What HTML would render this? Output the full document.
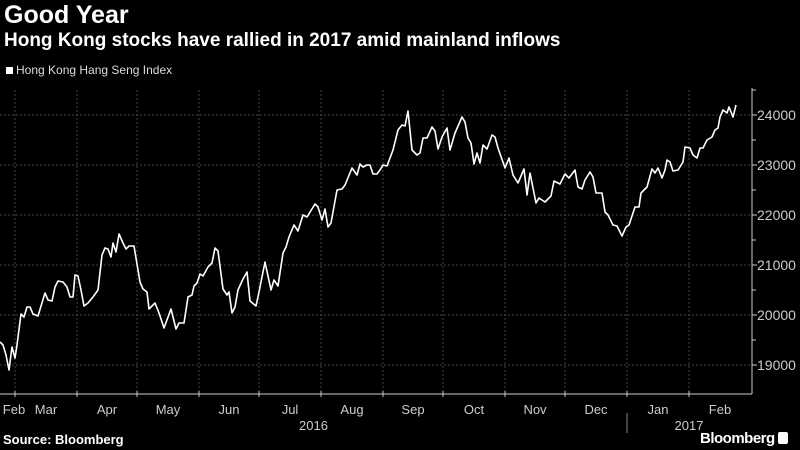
<!DOCTYPE html>
<html><head><meta charset="utf-8"><style>
body{margin:0;background:#000;width:800px;height:450px;overflow:hidden;font-family:"Liberation Sans",sans-serif;color:#fff}
.t{position:absolute;white-space:nowrap}
</style></head><body>
<div class="t" style="left:4px;top:1px;font-size:25px;font-weight:bold">Good Year</div>
<div class="t" style="left:4px;top:30px;font-size:19px;font-weight:bold">Hong Kong stocks have rallied in 2017 amid mainland inflows</div>
<div class="t" style="left:6px;top:63px;font-size:12px;color:#ddd"><span style="display:inline-block;width:7px;height:7px;background:#fff;margin-right:3px"></span>Hong Kong Hang Seng Index</div>
<svg id="c" width="800" height="450" style="position:absolute;left:0;top:0"></svg>
<div class="t" style="left:3px;top:432px;font-size:13px;font-weight:bold">Source: Bloomberg</div>
<div class="t" style="left:700px;top:430px;font-size:15px;font-weight:bold;letter-spacing:-0.5px">Bloomberg <span style="display:inline-block;width:10px;height:12px;background:#fff;border-radius:2px;vertical-align:-1px"></span></div>
<script>
const days=[21.5,23,24.5,26,27.5,29,30,32,33.5,35,36.5,38,40.5,44,45.5,47.5,49,50.5,53,55,56.5,58,59,60.5,62,63.5,65.5,68,70.5,72.5,74,75.5,77,78,79.5,81,83,84.5,86,88.5,91.5,93,95,96,99,101,103.5,107,109.5,111,113.5,115.5,117.5,118.5,120,121.5,123,125.5,127.5,129,130.5,133,135,136,137.5,139,140.5,143,145,146.5,149.5,151,154,157,158.5,160.5,163,164.5,166,168.5,170.5,173,175,179,180.5,182.5,184,185.5,187,190,192.5,194,197.5,200,201.5,203,205,206.5,208,210,211.5,213,215,218,220.5,222.5,224,225.5,227.5,230,231.5,233,235,237.5,239,240.5,242.5,245,246.5,249,252.5,254,255.5,257,258.5,260,261.5,263,265,267.5,269,270.5,274,276,278,280.5,283.5,285,286.5,289.5,291,294,297,298.5,301.5,304,306,309,310.5,312.5,314,316.5,318,319.5,322.5,324,325.5,328,330,332.5,334.5,336,339,341,342,345,347.5,349,350.5,352.5,354,355,356.5,358,360.5,363,364,366.5,368,370,371.5,373,375,377.5,379,380.5,381.5,383,385,386,388,389.5];
const values=[19460,19400,19200,18900,19360,19140,19400,20020,19960,20160,20160,20020,19980,20440,20300,20280,20560,20680,20660,20560,20360,20360,20800,20780,20500,20180,20240,20360,20500,21200,21340,21320,21160,21440,21260,21620,21440,21320,21380,21380,20660,20520,20460,20120,20240,20040,19740,20120,19720,19840,19840,20360,20400,20580,20640,20820,20780,20960,21040,21340,21280,20520,20400,20460,20040,20160,20500,20720,20860,20280,20180,20460,21060,20500,20700,20580,21240,21360,21560,21800,21680,22000,21960,22220,22160,21900,22120,21760,21840,22500,22520,22600,22940,22800,23020,22960,23000,23000,22820,22820,22900,23000,22980,23300,23700,23800,23780,24080,23300,23200,23240,23540,23540,23760,23680,23320,23560,23740,23300,23640,23960,23860,23540,23440,23020,23240,23040,23400,23320,23600,23560,23340,22940,23140,22800,22640,22920,22400,22840,22240,22340,22260,22380,22680,22620,22820,22740,22900,22560,22520,22700,22860,22760,22440,22440,22060,22000,21800,21780,21580,21760,21800,22160,22160,22440,22560,22920,22840,22940,22740,22900,23100,23060,22880,22900,23060,23360,23340,23200,23140,23340,23340,23500,23560,23700,23740,23960,24100,24040,24160,23960,24200];
const yTicks=[19000,20000,21000,22000,23000,24000];
const monthStarts=[29,60,90,121,151,182,213,243,274,304,335,366];
const monthLabels=["Feb","Mar","Apr","May","Jun","Jul","Aug","Sep","Oct","Nov","Dec","Jan","Feb"];
const years=[{label:"2016",from:21.5,to:335},{label:"2017",from:335,to:397}];
const L=0,R=752,B=394;
const xs=d=>2*d-43;
const ys=v=>115+(24000-v)/20;
const svg=document.getElementById('c');
const NS='http://www.w3.org/2000/svg';
function mk(t,a){const e=document.createElementNS(NS,t);for(const k in a)e.setAttribute(k,a[k]);svg.appendChild(e);return e;}
yTicks.forEach(v=>{
 const g=mk('line',{x1:L,x2:R,y1:ys(v),y2:ys(v),stroke:'#444','stroke-dasharray':'2,2'});
 
 
 const tx=mk('text',{x:757,y:ys(v)+5,fill:'#ccc','font-size':14,'font-family':'Liberation Sans, sans-serif'});
 tx.textContent=v;
 
 
 mk('line',{x1:R,x2:R+5,y1:ys(v),y2:ys(v),stroke:'#ccc'});
 mk('line',{x1:R,x2:R+4,y1:ys(v+500),y2:ys(v+500),stroke:'#ccc'});
});
monthStarts.forEach(d=>{
 const g=mk('line',{x1:xs(d),x2:xs(d),y1:90,y2:B,stroke:'#444','stroke-dasharray':'2,2'});
 
 
 mk('line',{x1:xs(d),x2:xs(d),y1:B-3,y2:B+3,stroke:'#ccc'});
});
const bounds=[days[0]].concat(monthStarts,[397]);
monthLabels.forEach((m,i)=>{
 const c=(xs(bounds[i])+xs(bounds[i+1]))/2;
 const t=mk('text',{x:i==0?14:c,y:414,fill:'#ccc','font-size':13,'text-anchor':'middle','font-family':'Liberation Sans, sans-serif'});
 t.textContent=m;
 
 
});
years.forEach(y=>{
 const t=mk('text',{x:(xs(y.from)+xs(y.to))/2,y:430,fill:'#ccc','font-size':13,'text-anchor':'middle','font-family':'Liberation Sans, sans-serif'});
 t.textContent=y.label;
 
 
});
mk('line',{x1:xs(335),x2:xs(335),y1:413,y2:433,stroke:'#888'});
mk('line',{x1:L,x2:R,y1:B,y2:B,stroke:'#ccc'});
mk('line',{x1:R,x2:R,y1:88,y2:B,stroke:'#ccc'});
const p=mk('polyline',{points:days.map((d,i)=>xs(d)+','+ys(values[i])).join(' '),fill:'none',stroke:'#fff','stroke-width':1.6,'stroke-linejoin':'round'});


</script>
</body></html>
